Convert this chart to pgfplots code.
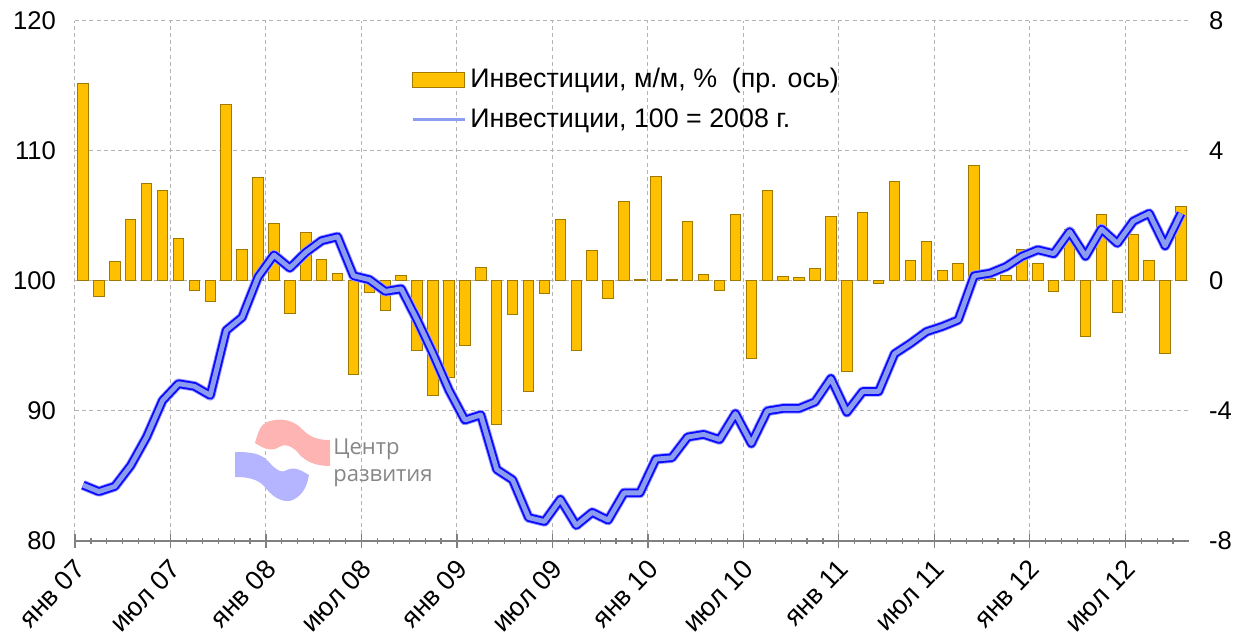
\documentclass[border=0pt]{standalone}
\usepackage{pgfplots}
\pgfplotsset{compat=1.18}
\usepackage{fontspec}
\setmainfont{Liberation Sans}
\newfontfamily\logofont{Open Sans}
\definecolor{bargold}{HTML}{FFC000}
\definecolor{baredge}{HTML}{A07A00}
\definecolor{lineblue}{HTML}{0A0AFF}
\definecolor{linelav}{HTML}{8C9CEE}
\definecolor{gridgray}{HTML}{B4B4B4}
\definecolor{logopink}{HTML}{FFB4B4}
\definecolor{logoblue}{HTML}{B4B4FF}

\pgfplotsset{
  barleg/.style={legend image code/.code={\draw[##1] (0pt,-3.75pt) rectangle (26pt,3.75pt);}},
  lineleg/.style={legend image code/.code={\draw[##1] (0pt,0pt) -- (26pt,0pt);}},
}

\pgfplotstableread{
x v
0 6.08
1 -0.49
2 0.59
3 1.90
4 3.00
5 2.77
6 1.30
7 -0.28
8 -0.64
9 5.42
10 0.98
11 3.17
12 1.77
13 -0.99
14 1.50
15 0.67
16 0.24
17 -2.88
18 -0.35
19 -0.91
20 0.18
21 -2.14
22 -3.52
23 -2.96
24 -2.00
25 0.43
26 -4.43
27 -1.03
28 -3.39
29 -0.40
30 1.90
31 -2.13
32 0.94
33 -0.55
34 2.45
35 0.05
36 3.21
37 0.05
38 1.82
39 0.19
40 -0.28
41 2.06
42 -2.38
43 2.77
44 0.15
45 0.11
46 0.39
47 1.97
48 -2.80
49 2.10
50 -0.09
51 3.05
52 0.64
53 1.23
54 0.31
55 0.54
56 3.55
57 0.08
58 0.18
59 0.98
60 0.54
61 -0.33
62 1.57
63 -1.71
64 2.06
65 -0.96
66 1.43
67 0.64
68 -2.22
69 2.29
}\barsdata

\pgfplotstableread{
x v
0 84.3
1 83.8
2 84.2
3 85.8
4 88.0
5 90.8
6 92.1
7 91.9
8 91.2
9 96.2
10 97.2
11 100.3
12 102.0
13 101.0
14 102.2
15 103.1
16 103.4
17 100.4
18 100.1
19 99.2
20 99.4
21 97.0
22 94.4
23 91.6
24 89.3
25 89.7
26 85.5
27 84.7
28 81.8
29 81.5
30 83.2
31 81.2
32 82.2
33 81.6
34 83.7
35 83.7
36 86.3
37 86.4
38 88.0
39 88.2
40 87.8
41 89.8
42 87.5
43 90.0
44 90.2
45 90.2
46 90.7
47 92.5
48 89.9
49 91.5
50 91.5
51 94.4
52 95.2
53 96.1
54 96.5
55 97.0
56 100.4
57 100.6
58 101.1
59 101.9
60 102.4
61 102.1
62 103.8
63 101.9
64 104.0
65 102.9
66 104.6
67 105.2
68 102.7
69 105.2
}\linedata

\begin{document}
\begin{tikzpicture}
\pgfplotsset{
  common/.style={
    scale only axis,
    width=557pt, height=260pt,
    xmin=-0.5, xmax=69.5,
    tick label style={font=\fontsize{12.8}{14}\selectfont},
    /pgf/number format/assume math mode=true,
    ytick style={draw=none},
    y axis line style={draw=none},
  }
}
% bars, grid, x axis, right axis, legend
\begin{axis}[common,
  axis x line*=bottom,
  axis y line*=right,
  ymin=-8, ymax=8,
  ytick={-8,-4,0,4,8},
  yticklabel style={anchor=west, xshift=6.5pt},
  xtick={-0.5,5.5,...,65.5},
  xticklabels={янв 07, июл 07, янв 08, июл 08, янв 09, июл 09, янв 10, июл 10, янв 11, июл 11, янв 12, июл 12},
  minor xtick={0.5,1.5,...,68.5},
  xticklabel style={xshift=-1pt, rotate=46, anchor=north east, inner sep=0.5pt, font=\fontsize{13.4}{15}\selectfont},
  xticklabel shift=4pt,
  xtick align=center,
  major tick length=7pt,
  minor tick length=3pt,
  x axis line style={draw=gray, line width=0.7pt},
  xtick style={draw=gray, line width=0.6pt},
  minor x tick style={draw=gray, line width=0.6pt},
  xmajorgrids, ymajorgrids,
  major grid style={draw=gridgray, dash pattern=on 2pt off 1.6pt, line width=0.5pt},
  legend cell align=left,
  legend style={at={(0.296,0.925)}, anchor=north west, draw=none, fill=none,
    font=\fontsize{13.4}{15}\selectfont, row sep=5pt},
]
\addplot[ybar, bar width=0.66, fill=bargold, draw=baredge, line width=0.5pt, barleg]
  table[x=x, y=v] {\barsdata};
\addlegendentry{Инвестиции, м/м, \%\hspace{0.55em}(пр. ось)}
\addlegendimage{draw=linelav, line width=1.6pt, lineleg}
\addlegendentry{Инвестиции, 100 = 2008 г.}
\end{axis}

% watermark logo
\begin{scope}[x=0.5pt, y=-0.5pt, shift={(-75,-541)}]
\fill[logopink] (255,443) .. controls (258,432) and (261,424) .. (267,422)
  .. controls (281,417) and (294,420) .. (303,430)
  .. controls (311,438) and (319,440) .. (330,440) -- (330,466)
  .. controls (316,466) and (306,462) .. (299,454)
  .. controls (293,446) and (284,443) .. (279,447)
  .. controls (272,452) and (264,449) .. cycle;
\fill[logoblue] (235,452) .. controls (250,452) and (260,453) .. (268,461)
  .. controls (275,469) and (281,474) .. (287,470)
  .. controls (295,466) and (302,471) .. (309,475)
  .. controls (307,487) and (302,497) .. (290,501)
  .. controls (279,502) and (271,495) .. (264,486)
  .. controls (257,479) and (248,477) .. (235,477) -- cycle;
\node[anchor=base west, inner sep=0pt, text=gray!95, font=\logofont\fontsize{11}{13}\selectfont] at (333,455) {Центр};
\node[anchor=base west, inner sep=0pt, text=gray!95, font=\logofont\fontsize{11}{13}\selectfont] at (333,482) {развития};
\end{scope}

% line, left axis
\begin{axis}[common,
  hide x axis,
  axis y line*=left,
  ymin=80, ymax=120,
  ytick={80,90,...,120},
  yticklabel style={anchor=east, xshift=-6pt},
]
\addplot[draw=lineblue!40, line width=5.2pt, line join=round] table[x=x, y=v] {\linedata};
\addplot[draw=lineblue, line width=4.3pt, line join=round] table[x=x, y=v] {\linedata};
\addplot[draw=linelav, line width=2.4pt, line join=round] table[x=x, y=v] {\linedata};
\end{axis}
\pgfresetboundingbox
\path (-37.5pt,-50pt) rectangle (584.5pt,270.5pt);
\end{tikzpicture}
\end{document}
